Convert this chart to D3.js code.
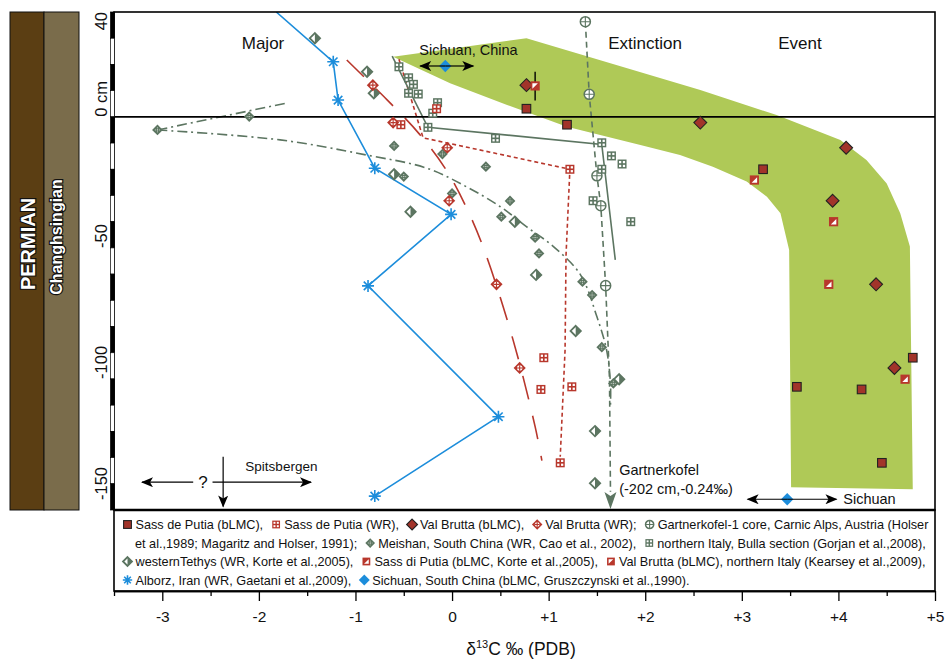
<!DOCTYPE html>
<html>
<head>
<meta charset="utf-8">
<script src="https://cdn.jsdelivr.net/npm/d3@7"></script>
<style>
  body { margin: 0; background: #fff; }
  svg { display: block; font-family: "Liberation Sans", Arial, Helvetica, sans-serif; }
</style>
</head>
<body>
<svg id="chart" width="945" height="661"></svg>
<script>
// ======================= DATA (d13C in permil, depth in cm) =======================
const xTicks = [-3.5, -3, -2.5, -2, -1.5, -1, -0.5, 0, 0.5, 1, 1.5, 2, 2.5, 3, 3.5, 4, 4.5, 5];
const yTickLabels = [40, 0, -50, -100, -150];

const sassPutiaDepth = [3.1, -3.0, -20.0, -91.9, -103.0, -104.0, -132.0];
const sassPutiaBLMC  = [0.77, 1.19, 3.22, 4.77, 3.57, 4.24, 4.45];
const sassPutiaWR    = [-0.16, -0.53, 1.22, 0.95, 1.24, 0.92, 1.12];
const sassPutiaWRLineC     = [-0.55, -0.30, 1.22, 1.18, 1.17, 1.12];
const sassPutiaWRLineDepth = [22.0, -8.0, -20.0, -52.7, -89.0, -129.7];

const valBruttaDepth = [12.1, -2.2, -11.8, -32.0, -63.9, -95.8];
const valBruttaBLMC  = [0.77, 2.57, 4.08, 3.94, 4.39, 4.58];
const valBruttaWR    = [-0.82, -0.61, -0.05, -0.03, 0.46, 0.70];
const valBruttaWRLineC     = [-1.09, -0.67, -0.34, -0.06, 0.16, 0.34, 0.63, 0.86, 0.93];
const valBruttaWRLineDepth = [21.7, 6.4, -6.5, -20.3, -35.5, -51.5, -84.9, -118.2, -131.2];

const gartnerDepth = [36.3, 8.6, -22.5, -33.9, -64.4];
const gartnerC     = [1.38, 1.42, 1.50, 1.54, 1.59];
const gartnerLineDepth = [36.3, 8.6, -22.5, -33.9, -64.4, -100, -143];
const gartnerLineC     = [1.38, 1.42, 1.50, 1.54, 1.59, 1.63, 1.64];
const gartnerArrowTip  = [1.64, -149.6];

const meishanDepth = [0.1, -5.0, -11.1, -22.8, -14.2, -29.2, -19.0, -32.1, -38.1, -46.1, -52.1, -62.9, -68.0, -87.9, -101.7];
const meishanC     = [-2.10, -3.05, -0.60, -0.50, -0.10, 0.00, 0.35, 0.60, 0.51, 0.86, 0.90, 1.35, 1.45, 1.55, 1.67];

const tethysDepth = [30.0, 17.2, 9.0, -21.9, -36.2, -40.0, -60.3, -81.7, -100.1, -119.9, -139.8];
const tethysC     = [-1.42, -0.88, -0.81, -0.60, -0.43, 0.65, 0.87, 1.28, 1.73, 1.48, 1.48];
const tethysCurveC     = [-3.05, -1.78, -0.88, -0.26, 0.15, 0.50, 0.77, 1.05, 1.33, 1.50, 1.60, 1.64, 1.64];
const tethysCurveDepth = [-5.0, -8.8, -14.6, -19.6, -26.7, -34.3, -41.9, -49.5, -60.3, -76.3, -89.0, -101.7, -110];
const tethysShortC     = [-3.05, -1.72];
const tethysShortDepth = [-5.0, 5.2];

const bullaDepth = [19.1, 14.9, 12.4, 9.0, 8.7, 5.4, 1.4, -4.0, -8.2, -9.9, -14.9, -18.0, -20.0, -32.0, -40.0];
const bullaC     = [-0.55, -0.45, -0.40, -0.45, -0.35, -0.15, -0.20, -0.25, 0.45, 1.55, 1.65, 1.76, 1.55, 1.46, 1.85];
const bullaLineC     = [-0.62, -0.25, 1.55, 1.69];
const bullaLineDepth = [23.2, -4.0, -10.5, -54.6];

const korteDepth = [-24.1, -40.0, -63.9, -100.1];
const korteC     = [3.13, 3.95, 3.90, 4.69];

const kearseyDepth = [11.8];
const kearseyC     = [0.86];
const kearseyBar   = [17.2, 6.2];

const alborzDepth = [21.0, 6.4, -19.6, -37.2, -64.5, -114.4, -144.7];
const alborzC     = [-1.23, -1.18, -0.80, -0.01, -0.87, 0.48, -0.80];
const alborzLineStart = [-1.82, 40];

const sichuanDepth = [19.4, -145.9];
const sichuanC     = [-0.07, 3.47];
const sichuanRange = [[-0.33, 0.22], [3.06, 3.98]];

const bandC     = [-0.61, 0.77, 2.57, 3.36, 4.02, 4.29, 4.50, 4.64, 4.74, 4.77, 3.51, 3.49, 3.40, 3.26, 3.05, 2.70, 2.36, 1.95, 1.19, 0.57, -0.02];
const bandDepth = [22.9, 30.0, 10.2, 0.7, -8.8, -16.5, -25.4, -36.8, -49.5, -142.1, -141.3, -50.8, -36.8, -30.5, -24.7, -19.0, -14.6, -10.7, -3.8, 4.5, 12.8];

const legendRows = [
  [['sqDark', 'Sass de Putia (bLMC),'], ['sqGridRed', 'Sass de Putia (WR),'], ['diaDark', 'Val Brutta (bLMC),'],
   ['diaCrossRed', 'Val Brutta (WR);'], ['circCross', 'Gartnerkofel-1 core, Carnic Alps, Austria (Holser']],
  [[null, 'et al.,1989; Magaritz and Holser, 1991);'], ['diaGreen', 'Meishan, South China (WR, Cao et al., 2002),'],
   ['sqGridGreen', 'northern Italy, Bulla section (Gorjan et al.,2008),']],
  [['diaHalf', 'westernTethys (WR, Korte et al.,2005),'], ['sqTri', 'Sass di Putia (bLMC, Korte et al.,2005),'],
   ['sqTri2', 'Val Brutta (bLMC), northern Italy (Kearsey et al.,2009),']],
  [['asterisk', 'Alborz, Iran (WR, Gaetani et al.,2009),'], ['diaBlue', 'Sichuan, South China (bLMC, Gruszczynski et al.,1990).']]
];

// ======================= COLOURS =======================
const DARKRED = '#a2342a';
const RED = '#b8372c';
const GREEN = '#5c7561';
const BLUE = '#1c8ddb';
const BAND = '#afc957';

const svg = d3.select('#chart');
const x = d3.scaleLinear().domain([-3.5, 5]).range([114, 935]);
const y = d3.scaleLinear().domain([40, -150]).range([12, 510]);
const zip = (a, b) => a.map((v, i) => [v, b[i]]);

// ======================= ARROW MARKER =======================
const defs = svg.append('defs');
defs.append('marker')
  .attr('id', 'arrowHead').attr('viewBox', '0 0 12 10')
  .attr('refX', 11).attr('refY', 5)
  .attr('markerWidth', 13).attr('markerHeight', 10)
  .attr('markerUnits', 'userSpaceOnUse')
  .attr('orient', 'auto-start-reverse')
  .append('path').attr('d', 'M0,0 L12,5 L0,10 L3,5 Z').attr('fill', '#000');
defs.append('clipPath').attr('id', 'plotClip')
  .append('rect').attr('x', 114).attr('y', 12).attr('width', 821).attr('height', 498);

// ======================= MARKERS =======================
function diamondPath(h) { return `M0,${-h} L${h},0 L0,${h} L${-h},0 Z`; }

function drawMarker(parent, type, cx, cy, s) {
  const g = parent.append('g').attr('transform', `translate(${cx},${cy})`);
  if (type === 'sqDark') {
    g.append('rect').attr('x', -s).attr('y', -s).attr('width', 2 * s).attr('height', 2 * s)
      .attr('fill', DARKRED).attr('stroke', '#222').attr('stroke-width', 1.1);
  } else if (type === 'sqGridRed' || type === 'sqGridGreen') {
    const c = type === 'sqGridRed' ? RED : GREEN;
    g.append('rect').attr('x', -s).attr('y', -s).attr('width', 2 * s).attr('height', 2 * s).attr('fill', c);
    const a = s * 0.5;
    [[-s * 0.68, -s * 0.68], [s * 0.18, -s * 0.68], [-s * 0.68, s * 0.18], [s * 0.18, s * 0.18]].forEach(p => {
      g.append('rect').attr('x', p[0]).attr('y', p[1]).attr('width', a).attr('height', a).attr('fill', '#fff');
    });
  } else if (type === 'diaDark') {
    g.append('path').attr('d', diamondPath(s * 1.4)).attr('fill', DARKRED).attr('stroke', '#222').attr('stroke-width', 1.1);
  } else if (type === 'diaCrossRed') {
    g.append('path').attr('d', diamondPath(s * 1.35)).attr('fill', RED);
    g.append('circle').attr('r', s * 0.6).attr('fill', '#fff');
    g.append('path').attr('d', `M${-s * 0.6},0 H${s * 0.6} M0,${-s * 0.6} V${s * 0.6}`)
      .attr('stroke', RED).attr('stroke-width', 1.1);
  } else if (type === 'circCross') {
    g.append('circle').attr('r', s * 1.05).attr('fill', '#fff').attr('stroke', GREEN).attr('stroke-width', 1.5);
    g.append('path').attr('d', `M${-s},0 H${s} M0,${-s} V${s}`).attr('stroke', GREEN).attr('stroke-width', 1.1);
  } else if (type === 'diaGreen') {
    g.append('path').attr('d', diamondPath(s * 1.25)).attr('fill', GREEN);
    g.append('path').attr('d', `M${-s * 0.6},0 H${s * 0.6} M0,${-s * 0.6} V${s * 0.6}`)
      .attr('stroke', '#cfd8cf').attr('stroke-width', 0.9).attr('stroke-dasharray', '1,1');
  } else if (type === 'diaHalf') {
    const h = s * 1.15;
    g.append('path').attr('d', diamondPath(h)).attr('fill', '#fff').attr('stroke', GREEN).attr('stroke-width', 1.8);
    g.append('path').attr('d', `M0,${-h} L${h},0 L0,${h} Z`).attr('fill', GREEN);
  } else if (type === 'sqTri' || type === 'sqTri2') {
    g.append('rect').attr('x', -s).attr('y', -s).attr('width', 2 * s).attr('height', 2 * s).attr('fill', RED);
    const t = s * 0.6;
    const d = type === 'sqTri'
      ? `M${t},${-t} L${t},${t} L${-t},${t} Z`
      : `M${-t},${-t} L${t},${-t} L${-t},${t} Z`;
    g.append('path').attr('d', d).attr('fill', '#fff');
  } else if (type === 'asterisk') {
    const r = s * 1.2, q = r * 0.707;
    g.append('path').attr('d', `M${-r},0 H${r} M0,${-r} V${r} M${-q},${-q} L${q},${q} M${-q},${q} L${q},${-q}`)
      .attr('stroke', BLUE).attr('stroke-width', 1.6);
  } else if (type === 'diaBlue') {
    g.append('path').attr('d', diamondPath(s * 1.4)).attr('fill', BLUE);
  }
  return g;
}

// ======================= LEFT STRATIGRAPHIC COLUMNS =======================
svg.append('rect').attr('x', 10).attr('y', 12).attr('width', 34).attr('height', 498)
  .attr('fill', '#5b3e13').attr('stroke', '#111').attr('stroke-width', 1);
svg.append('rect').attr('x', 44).attr('y', 12).attr('width', 35).attr('height', 498)
  .attr('fill', '#7a6c4b').attr('stroke', '#111').attr('stroke-width', 1);
svg.append('text').text('PERMIAN')
  .attr('transform', 'translate(35,244) rotate(-90)').attr('text-anchor', 'middle')
  .attr('font-size', 20).attr('font-weight', 'bold').attr('fill', '#fff')
  .attr('stroke', '#111').attr('stroke-width', 2.4).attr('paint-order', 'stroke');
svg.append('text').text('Changhsingian')
  .attr('transform', 'translate(62,237) rotate(-90)').attr('text-anchor', 'middle')
  .attr('font-size', 16).attr('font-weight', 'bold').attr('fill', '#fff')
  .attr('stroke', '#111').attr('stroke-width', 2.4).attr('paint-order', 'stroke');

// ======================= GREEN BAND =======================
const plot = svg.append('g').attr('clip-path', 'url(#plotClip)');
plot.append('path')
  .attr('d', d3.line().x(d => x(d[0])).y(d => y(d[1])).curve(d3.curveLinearClosed)(zip(bandC, bandDepth)))
  .attr('fill', BAND);

// zero line
svg.append('line').attr('x1', x(-3.5)).attr('x2', x(5)).attr('y1', y(0)).attr('y2', y(0))
  .attr('stroke', '#000').attr('stroke-width', 1.6);

// ======================= TREND LINES =======================
const lineGen = d3.line().x(d => x(d[0])).y(d => y(d[1]));
const curveGen = d3.line().x(d => x(d[0])).y(d => y(d[1])).curve(d3.curveCatmullRom.alpha(0.5));

plot.append('path').attr('d', curveGen(zip(tethysCurveC, tethysCurveDepth)))
  .attr('fill', 'none').attr('stroke', GREEN).attr('stroke-width', 1.6).attr('stroke-dasharray', '10,4,2,4');
plot.append('path').attr('d', lineGen(zip(tethysShortC, tethysShortDepth)))
  .attr('fill', 'none').attr('stroke', GREEN).attr('stroke-width', 1.6).attr('stroke-dasharray', '10,4,2,4');
plot.append('path').attr('d', lineGen(zip(sassPutiaWRLineC, sassPutiaWRLineDepth)))
  .attr('fill', 'none').attr('stroke', RED).attr('stroke-width', 1.6).attr('stroke-dasharray', '4,3');
plot.append('path').attr('d', curveGen(zip(valBruttaWRLineC, valBruttaWRLineDepth)))
  .attr('fill', 'none').attr('stroke', RED).attr('stroke-width', 1.6).attr('stroke-dasharray', '24,17');
plot.append('path').attr('d', lineGen(zip(gartnerLineC, gartnerLineDepth)))
  .attr('fill', 'none').attr('stroke', GREEN).attr('stroke-width', 1.6).attr('stroke-dasharray', '6,4');
plot.append('path').attr('d', lineGen(zip(bullaLineC, bullaLineDepth)))
  .attr('fill', 'none').attr('stroke', GREEN).attr('stroke-width', 1.6);
plot.append('path').attr('d', lineGen([alborzLineStart].concat(zip(alborzC, alborzDepth))))
  .attr('fill', 'none').attr('stroke', BLUE).attr('stroke-width', 1.6);

// Gartnerkofel arrow head
const tipX = x(gartnerArrowTip[0]), tipY = y(gartnerArrowTip[1]);
svg.append('path')
  .attr('d', `M${tipX},${tipY} L${tipX - 6},${tipY - 17} L${tipX},${tipY - 13} L${tipX + 6},${tipY - 17} Z`)
  .attr('fill', GREEN);

// Kearsey error bar
svg.append('line').attr('x1', x(kearseyC[0])).attr('x2', x(kearseyC[0]))
  .attr('y1', y(kearseyBar[0])).attr('y2', y(kearseyBar[1])).attr('stroke', '#000').attr('stroke-width', 1.4);

// ======================= POINTS =======================
const pts = svg.append('g');
function drawSeries(cs, ds, type, s) {
  cs.forEach((c, i) => drawMarker(pts, type, x(c), y(ds[i]), s));
}
drawSeries(tethysC, tethysDepth, 'diaHalf', 4.5);
drawSeries(meishanC, meishanDepth, 'diaGreen', 4.3);
drawSeries(gartnerC, gartnerDepth, 'circCross', 4.8);
drawSeries(bullaC, bullaDepth, 'sqGridGreen', 4.5);
drawSeries(sassPutiaWR, sassPutiaDepth, 'sqGridRed', 4.5);
drawSeries(valBruttaWR, valBruttaDepth, 'diaCrossRed', 4.5);
drawSeries(sassPutiaBLMC, sassPutiaDepth, 'sqDark', 4.3);
drawSeries(valBruttaBLMC, valBruttaDepth, 'diaDark', 4.6);
drawSeries(korteC, korteDepth, 'sqTri', 4.6);
drawSeries(kearseyC, kearseyDepth, 'sqTri2', 4.6);
drawSeries(alborzC, alborzDepth, 'asterisk', 5.0);

// Sichuan ranges
sichuanC.forEach((c, i) => {
  const r = sichuanRange[i];
  svg.append('line').attr('x1', x(c)).attr('x2', x(r[0])).attr('y1', y(sichuanDepth[i])).attr('y2', y(sichuanDepth[i]))
    .attr('stroke', '#000').attr('stroke-width', 1.2).attr('marker-end', 'url(#arrowHead)');
  svg.append('line').attr('x1', x(c)).attr('x2', x(r[1])).attr('y1', y(sichuanDepth[i])).attr('y2', y(sichuanDepth[i]))
    .attr('stroke', '#000').attr('stroke-width', 1.2).attr('marker-end', 'url(#arrowHead)');
  drawMarker(pts, 'diaBlue', x(c), y(sichuanDepth[i]), 4.4);
});

// ======================= ANNOTATIONS =======================
const ann = svg.append('g').attr('fill', '#111');
ann.append('text').text('Major').attr('x', 263).attr('y', 49).attr('text-anchor', 'middle').attr('font-size', 17);
ann.append('text').text('Extinction').attr('x', 645).attr('y', 49).attr('text-anchor', 'middle').attr('font-size', 17);
ann.append('text').text('Event').attr('x', 800).attr('y', 49).attr('text-anchor', 'middle').attr('font-size', 17);
ann.append('text').text('Sichuan, China').attr('x', x(0.17)).attr('y', y(23.6)).attr('text-anchor', 'middle').attr('font-size', 14.5);
ann.append('text').text('Sichuan').attr('x', x(4.05)).attr('y', y(-147.7)).attr('font-size', 14.5);
ann.append('text').text('Gartnerkofel').attr('x', x(1.73)).attr('y', y(-136.6)).attr('font-size', 14.5);
ann.append('text').text('(-202 cm,-0.24‰)').attr('x', x(1.73)).attr('y', y(-143.9)).attr('font-size', 14.5);
ann.append('text').text('Spitsbergen').attr('x', x(-2.14)).attr('y', y(-135.0)).attr('font-size', 13.5);
ann.append('text').text('?').attr('x', x(-2.58)).attr('y', y(-141.6)).attr('text-anchor', 'middle').attr('font-size', 17);

const spits = [[-2.68, -3.21], [-2.48, -1.46]];
spits.forEach(s => {
  svg.append('line').attr('x1', x(s[0])).attr('x2', x(s[1])).attr('y1', y(-139.4)).attr('y2', y(-139.4))
    .attr('stroke', '#000').attr('stroke-width', 1.2).attr('marker-end', 'url(#arrowHead)');
});
svg.append('line').attr('x1', x(-2.37)).attr('x2', x(-2.37)).attr('y1', y(-129.7)).attr('y2', y(-148.7))
  .attr('stroke', '#000').attr('stroke-width', 1.2).attr('marker-end', 'url(#arrowHead)');

// ======================= FRAMES =======================
svg.append('rect').attr('x', 114).attr('y', 12).attr('width', 821).attr('height', 498)
  .attr('fill', 'none').attr('stroke', '#000').attr('stroke-width', 1.6);
svg.append('rect').attr('x', 114).attr('y', 510).attr('width', 821).attr('height', 81)
  .attr('fill', 'none').attr('stroke', '#000').attr('stroke-width', 1.6);
svg.append('line').attr('x1', 114).attr('x2', 935).attr('y1', 510).attr('y2', 510)
  .attr('stroke', '#000').attr('stroke-width', 2.6);

// ======================= Y SCALE BAR =======================
const segs = d3.range(40, -150, -10);
svg.append('g').selectAll('rect').data(segs).enter().append('rect')
  .attr('x', 110.5).attr('width', 4)
  .attr('y', d => y(d)).attr('height', d => y(d - 10) - y(d))
  .attr('fill', (d, i) => i % 2 === 0 ? '#000' : '#fff')
  .attr('stroke', '#000').attr('stroke-width', 0.7);

yTickLabels.forEach(v => {
  let pos = y(v), anchor = 'start';
  if (v === 40) anchor = 'end';
  if (v === -150) pos = y(v) - 10;
  svg.append('text').text(v === 0 ? '0 cm' : String(v))
    .attr('transform', `translate(107,${pos}) rotate(-90)`)
    .attr('text-anchor', anchor).attr('font-size', 16.5).attr('fill', '#111');
});

// ======================= X AXIS =======================
const isMajor = v => Number.isInteger(v) ;
const xAxisMinor = d3.axisBottom(x).tickValues(xTicks.filter(v => !isMajor(v)))
  .tickSize(5).tickSizeOuter(0).tickFormat('');
const xAxisMajor = d3.axisBottom(x).tickValues(xTicks.filter(isMajor))
  .tickSize(10).tickSizeOuter(0).tickPadding(10)
  .tickFormat(v => v > 0 ? '+' + v : String(v));
const gMinor = svg.append('g').attr('transform', 'translate(0,591)').call(xAxisMinor);
const gMajor = svg.append('g').attr('transform', 'translate(0,591)').call(xAxisMajor);
[gMinor, gMajor].forEach(g => {
  g.select('.domain').attr('stroke-width', 1.6);
  g.selectAll('.tick line').attr('stroke-width', 1.3);
});
gMajor.selectAll('.tick text').attr('font-size', 15.5).attr('font-family', '"Liberation Sans Narrow", "Liberation Sans", Arial, sans-serif').attr('fill', '#111');

const title = svg.append('text').attr('x', 521).attr('y', 655).attr('text-anchor', 'middle')
  .attr('font-size', 17.5).attr('fill', '#111')
  .attr('font-family', '"Liberation Sans Narrow", "Liberation Sans", Arial, sans-serif');
title.append('tspan').text('δ');
title.append('tspan').text('13').attr('font-size', 11).attr('dy', -7);
title.append('tspan').text('C ‰ (PDB)').attr('dy', 7);

// ======================= LEGEND =======================
const legendBaselines = [529, 547.5, 566, 584.5];
const lg = svg.append('g');
legendRows.forEach((row, r) => {
  const by = legendBaselines[r];
  let cursor = null;
  row.forEach(item => {
    let tx;
    if (item[0]) {
      const cx = cursor === null ? 127.5 : cursor + 13;
      drawMarker(lg, item[0], cx, by - 4.5, 3.9);
      tx = cx + 8;
    } else {
      tx = 135;
    }
    const t = lg.append('text').text(item[1]).attr('x', tx).attr('y', by)
      .attr('font-size', 12.7).attr('fill', '#111');
    cursor = tx + t.node().getComputedTextLength();
  });
});
</script>
</body>
</html>
